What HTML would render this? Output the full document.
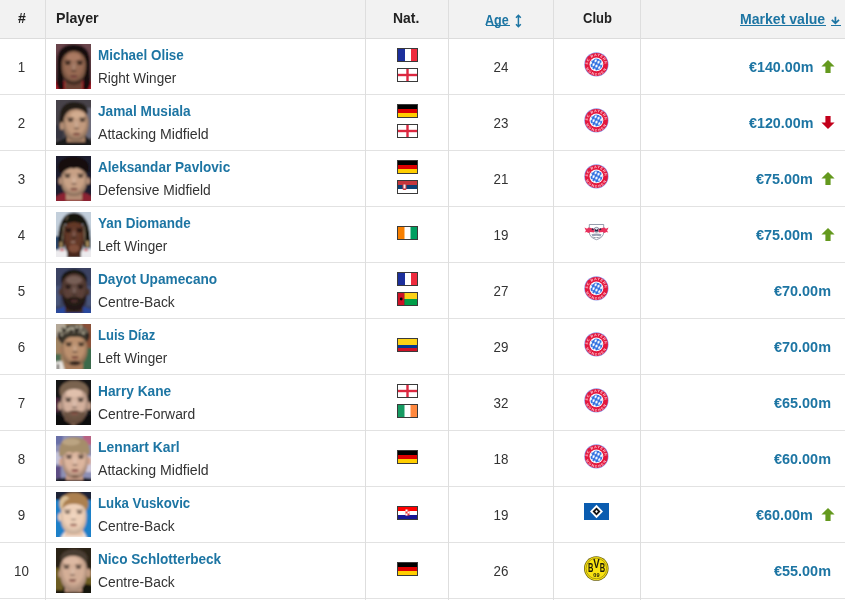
<!DOCTYPE html><html><head><meta charset="utf-8"><title>Most valuable players</title><style>
*{box-sizing:border-box}
html,body{margin:0;padding:0;background:#fff}
body{width:845px;height:600px;overflow:hidden;position:relative;font-family:"Liberation Sans", sans-serif;font-size:14px;color:#333}
.hd{position:absolute;left:0;top:0;width:845px;height:39px;background:#f2f2f2;border-bottom:1px solid #dcdcdc}
.row{position:absolute;left:0;width:845px;height:56px;border-bottom:1px solid #e2e2e2;background:#fff}
.vl{position:absolute;top:0;width:1px;height:600px;background:#dedede}
.t{position:absolute;white-space:nowrap;line-height:16px;height:16px;transform-origin:0 0}
.c{transform-origin:50% 0}
.b{font-weight:bold}
.lnk{color:#1d75a3}
.hdt{color:#222;font-weight:bold}
.pic{position:absolute;left:56px;top:5px}
.flag{position:absolute;left:397px}
.club{position:absolute}
.arr{position:absolute;left:820.500px;top:21px}
.ul{position:absolute;height:1px;background:#1d75a3}
</style></head><body>
<svg width="0" height="0" style="position:absolute"><defs><radialGradient id="shade" cx="0.5" cy="0.42" r="0.62"><stop offset="0" stop-color="#fff" stop-opacity="0.10"/><stop offset="0.55" stop-color="#000" stop-opacity="0"/><stop offset="1" stop-color="#000" stop-opacity="0.42"/></radialGradient><path id="fcbtop" d="M4.200 12.4 A8.200 8.200 0 0 1 20.600 12.4"/><path id="fcbbot" d="M1.300 12.4 A11.100 11.100 0 0 0 23.500 12.4"/><pattern id="fcbpat" width="3.200" height="4.400" patternUnits="userSpaceOnUse" patternTransform="rotate(28)"><rect width="3.200" height="4.400" fill="#2f6fe0"/><path d="M1.600 0.200 L2.900 2.200 L1.600 4.200 L0.300 2.200Z" fill="#fff"/></pattern></defs></svg>
<div class="hd">
<span class="t hdt" style="left:17.600px;top:10px;transform:scaleX(1.0004)">#</span>
<span class="t hdt" style="left:55.600px;top:10px;transform:scaleX(1.0132)">Player</span>
<span class="t hdt" style="left:393.300px;top:10px;transform:scaleX(0.9942)">Nat.</span>
<a class="t b lnk" style="left:485px;top:12px;transform:scaleX(0.8959)">Age</a>
<span class="t hdt" style="left:582.500px;top:10px;transform:scaleX(0.9290)">Club</span>
<a class="t b lnk" style="left:740px;top:11px;transform:scaleX(1.0044)">Market value</a>
<div class="ul" style="left:485.500px;width:24px;top:25px"></div>
<div class="ul" style="left:740px;width:86px;top:25px"></div>
<div class="ul" style="left:831px;width:9.500px;top:25px"></div>
<svg style="position:absolute;left:514px;top:13.500px" width="9" height="14" viewBox="0 0 9 14"><path d="M4.400 1.500 V12.500 M2 3.800 L4.400 1.300 L6.800 3.800 M2 10.200 L4.400 12.700 L6.800 10.200" stroke="#1d75a3" stroke-width="1.500" fill="none"/></svg>
<svg style="position:absolute;left:830px;top:15px" width="11" height="10" viewBox="0 0 11 10"><path d="M5.400 1.700 V8 M1.800 4.800 L5.400 8.300 L9 4.800" stroke="#1d75a3" stroke-width="1.700" fill="none"/></svg>
</div>
<div class="row" style="top:39px">
<span class="t c" style="left:-0.700px;width:45px;text-align:center;top:19.500px;transform:scaleX(0.9550)">1</span>
<svg class="pic" width="35" height="45" viewBox="0 0 35 45"><defs><filter id="bl1" x="-30%" y="-30%" width="160%" height="160%"><feGaussianBlur stdDeviation="0.8"/></filter><clipPath id="cp1"><rect width="35" height="45"/></clipPath></defs><g clip-path="url(#cp1)"><g filter="url(#bl1)"><rect x="-5" y="-5" width="45" height="55" fill="#6b444c"/><rect x="-5" y="37" width="45" height="14" fill="#b01c2a"/><path d="M0.500 40 L1 16 Q2 0.500 17.5 0.500 Q33 0.500 34 16 L34.500 40 L32 46 L27 46 L28 14 L7 14 L8 46 L3 46Z" fill="#17110f"/><rect x="9" y="30" width="17" height="16" fill="#6a4434"/><path d="M5.600000000000001 20.57 C5.600000000000001 2.4800000000000004 30.0 2.4800000000000004 30.0 20.57 C30.0 33.3 25.364 40 17.8 40 C10.236 40 5.600000000000001 33.3 5.600000000000001 20.57Z" fill="#9a6c54"/><path d="M5.600000000000001 20.57 C5.600000000000001 2.4800000000000004 30.0 2.4800000000000004 30.0 20.57 C30.0 33.3 25.364 40 17.8 40 C10.236 40 5.600000000000001 33.3 5.600000000000001 20.57Z" fill="url(#shade)" opacity="1.00"/><ellipse cx="17.5" cy="13" rx="7" ry="3.500" fill="#b07e66" opacity="0.8"/><path d="M6.500 30 Q8 41 17.8 41 Q27.500 41 29 30 Q26 37 17.8 37.500 Q9.500 37 6.500 30Z" fill="#2a1a14" opacity="0.6"/><ellipse cx="11.8" cy="19.5" rx="2.800" ry="1.300" fill="#120c0a" opacity="0.81"/><ellipse cx="23.8" cy="19.5" rx="2.800" ry="1.300" fill="#120c0a" opacity="0.81"/><rect x="8.600000000000001" y="16.6" width="6.400" height="1.300" fill="#120c0a" opacity="0.6885"/><rect x="20.6" y="16.6" width="6.400" height="1.300" fill="#120c0a" opacity="0.6885"/><ellipse cx="17.8" cy="27" rx="2.800" ry="1" fill="#1a0c08" opacity="0.405"/><ellipse cx="17.8" cy="23.5" rx="1.200" ry="3" fill="#fff" opacity="0.12"/><ellipse cx="17.8" cy="32.9" rx="3.400" ry="1.300" fill="#8a4a4a" opacity="0.65"/><ellipse cx="17.8" cy="31.8" rx="4" ry="0.600" fill="#2a1212" opacity="0.6"/></g></g></svg>
<a class="t b lnk" style="left:97.700px;top:8px;transform:scaleX(0.9588)">Michael Olise</a>
<span class="t " style="left:98px;top:31px;transform:scaleX(0.9664)">Right Winger</span>
<svg class="flag" style="top:9px" width="21" height="14" viewBox="-1 -1 21 14"><rect x="-1" y="-1" width="21" height="14" fill="#3a3a3a"/><rect width="7" height="12" fill="#1c2f9c"/><rect x="7" width="7" height="12" fill="#fff"/><rect x="13" width="6" height="12" fill="#ee2b3e"/></svg>
<svg class="flag" style="top:29px" width="21" height="14" viewBox="-1 -1 21 14"><rect x="-1" y="-1" width="21" height="14" fill="#3a3a3a"/><rect width="19" height="12" fill="#fff"/><rect x="8.300" width="2.400" height="12" fill="#dc2840"/><rect y="4.800" width="19" height="2.400" fill="#dc2840"/></svg>
<span class="t c" style="left:449px;width:104px;text-align:center;top:19.500px;transform:scaleX(0.9550)">24</span>
<svg class="club" style="left:584px;top:13px" width="25" height="25" viewBox="0 0 25 25"><circle cx="12.4" cy="12.4" r="12.1" fill="#8f98ea"/><circle cx="12.4" cy="12.4" r="11.5" fill="#e3173d"/><text font-family="Liberation Sans, sans-serif" font-weight="bold" font-size="3.600" fill="#ffc4cf" letter-spacing="0.550"><textPath href="#fcbtop" startOffset="50%" text-anchor="middle">FC BAYERN</textPath></text><text font-family="Liberation Sans, sans-serif" font-weight="bold" font-size="3.600" fill="#ffc4cf" letter-spacing="1.200"><textPath href="#fcbbot" startOffset="50%" text-anchor="middle">MÜNCHEN</textPath></text><circle cx="12.4" cy="12.4" r="6.9" fill="#fff"/><circle cx="12.4" cy="12.4" r="6" fill="url(#fcbpat)"/></svg>
<a class="t b lnk" style="left:748.8px;top:19.500px;transform:scaleX(1.0212)">€140.00m</a>
<svg class="arr" width="14" height="13" viewBox="0 0 14 13"><path d="M7 0 L13.6 6.600 H9.600 V13 H4.400 V6.600 H0.400z" fill="#64991e"/></svg>
</div>
<div class="row" style="top:95px">
<span class="t c" style="left:-0.700px;width:45px;text-align:center;top:19.500px;transform:scaleX(0.9550)">2</span>
<svg class="pic" width="35" height="45" viewBox="0 0 35 45"><defs><filter id="bl2" x="-30%" y="-30%" width="160%" height="160%"><feGaussianBlur stdDeviation="0.8"/></filter><clipPath id="cp2"><rect width="35" height="45"/></clipPath></defs><g clip-path="url(#cp2)"><g filter="url(#bl2)"><rect x="-5" y="-5" width="45" height="55" fill="#47434a"/><rect x="30" y="8" width="10" height="30" fill="#6c6c7c"/><rect x="-5" y="25" width="12" height="14" fill="#353540"/><path d="M-2 50 V43 Q8 39 12 36 H30 Q33 40 38 43 V50Z" fill="#1a1a1e"/><rect x="11" y="30" width="18" height="12" fill="#a88268"/><path d="M3.500 24 Q2 2 18 2 Q31 2 32 12 L30 16 Q20 7 11 14 L9 26Z" fill="#241b16"/><ellipse cx="6" cy="26" rx="2.200" ry="4" fill="#b48e74"/><path d="M7.4 22.15 C7.4 4.6 32.6 4.6 32.6 22.15 C32.6 34.5 27.811999999999998 41 20 41 C12.188 41 7.4 34.5 7.4 22.15Z" fill="#c59c7f"/><path d="M7.4 22.15 C7.4 4.6 32.6 4.6 32.6 22.15 C32.6 34.5 27.811999999999998 41 20 41 C12.188 41 7.4 34.5 7.4 22.15Z" fill="url(#shade)" opacity="1.00"/><ellipse cx="22" cy="15" rx="7" ry="3.500" fill="#d6b094" opacity="0.8"/><ellipse cx="14.5" cy="20.5" rx="2.800" ry="1.300" fill="#120c0a" opacity="0.7425000000000002"/><ellipse cx="26.5" cy="20.5" rx="2.800" ry="1.300" fill="#120c0a" opacity="0.7425000000000002"/><rect x="11.3" y="17.6" width="6.400" height="1.300" fill="#120c0a" opacity="0.6311250000000002"/><rect x="23.3" y="17.6" width="6.400" height="1.300" fill="#120c0a" opacity="0.6311250000000002"/><ellipse cx="20.5" cy="28.5" rx="2.800" ry="1" fill="#1a0c08" opacity="0.3712500000000001"/><ellipse cx="20.5" cy="25.0" rx="1.200" ry="3" fill="#fff" opacity="0.12"/><ellipse cx="20.5" cy="34.4" rx="3.400" ry="1.300" fill="#8a4a40" opacity="0.65"/><ellipse cx="20.5" cy="33.3" rx="4" ry="0.600" fill="#2a1212" opacity="0.6"/></g></g></svg>
<a class="t b lnk" style="left:97.700px;top:8px;transform:scaleX(0.9764)">Jamal Musiala</a>
<span class="t " style="left:98px;top:31px;transform:scaleX(1.0089)">Attacking Midfield</span>
<svg class="flag" style="top:9px" width="21" height="14" viewBox="-1 -1 21 14"><rect x="-1" y="-1" width="21" height="14" fill="#3a3a3a"/><rect width="19" height="4" fill="#000"/><rect y="4" width="19" height="4" fill="#dd0000"/><rect y="8" width="19" height="4" fill="#ffce00"/></svg>
<svg class="flag" style="top:29px" width="21" height="14" viewBox="-1 -1 21 14"><rect x="-1" y="-1" width="21" height="14" fill="#3a3a3a"/><rect width="19" height="12" fill="#fff"/><rect x="8.300" width="2.400" height="12" fill="#dc2840"/><rect y="4.800" width="19" height="2.400" fill="#dc2840"/></svg>
<span class="t c" style="left:449px;width:104px;text-align:center;top:19.500px;transform:scaleX(0.9550)">23</span>
<svg class="club" style="left:584px;top:13px" width="25" height="25" viewBox="0 0 25 25"><circle cx="12.4" cy="12.4" r="12.1" fill="#8f98ea"/><circle cx="12.4" cy="12.4" r="11.5" fill="#e3173d"/><text font-family="Liberation Sans, sans-serif" font-weight="bold" font-size="3.600" fill="#ffc4cf" letter-spacing="0.550"><textPath href="#fcbtop" startOffset="50%" text-anchor="middle">FC BAYERN</textPath></text><text font-family="Liberation Sans, sans-serif" font-weight="bold" font-size="3.600" fill="#ffc4cf" letter-spacing="1.200"><textPath href="#fcbbot" startOffset="50%" text-anchor="middle">MÜNCHEN</textPath></text><circle cx="12.4" cy="12.4" r="6.9" fill="#fff"/><circle cx="12.4" cy="12.4" r="6" fill="url(#fcbpat)"/></svg>
<a class="t b lnk" style="left:748.8px;top:19.500px;transform:scaleX(1.0212)">€120.00m</a>
<svg class="arr" width="14" height="13" viewBox="0 0 14 13"><path d="M7 13 L13.6 6.400 H9.600 V0 H4.400 V6.400 H0.400z" fill="#c2001b"/></svg>
</div>
<div class="row" style="top:151px">
<span class="t c" style="left:-0.700px;width:45px;text-align:center;top:19.500px;transform:scaleX(0.9550)">3</span>
<svg class="pic" width="35" height="45" viewBox="0 0 35 45"><defs><filter id="bl3" x="-30%" y="-30%" width="160%" height="160%"><feGaussianBlur stdDeviation="0.8"/></filter><clipPath id="cp3"><rect width="35" height="45"/></clipPath></defs><g clip-path="url(#cp3)"><g filter="url(#bl3)"><rect x="-5" y="-5" width="45" height="55" fill="#1b1d2d"/><path d="M-2 50 V42 Q6 36 11 37 L17.5 44 L25 37 Q30 36 38 42 V50Z" fill="#8c2232"/><rect x="10" y="30" width="16" height="14" fill="#b48c74"/><ellipse cx="17.5" cy="11" rx="15.500" ry="10.500" fill="#15110f"/><ellipse cx="4.500" cy="25" rx="2" ry="3.500" fill="#b8917a"/><ellipse cx="32" cy="25" rx="2" ry="3.500" fill="#b8917a"/><path d="M5 23.18 C5 7.52 31 7.52 31 23.18 C31 34.2 26.060000000000002 40 18 40 C9.94 40 5 34.2 5 23.18Z" fill="#cba387"/><path d="M5 23.18 C5 7.52 31 7.52 31 23.18 C31 34.2 26.060000000000002 40 18 40 C9.94 40 5 34.2 5 23.18Z" fill="url(#shade)" opacity="1.00"/><path d="M3 17 Q3 3 18 2.500 Q33 3 33.5 17 Q30 11.500 26 13 Q22 11 18 12.500 Q13 11 10 13.500 Q6 12.500 3 17Z" fill="#15110f"/><ellipse cx="11.5" cy="20.5" rx="2.800" ry="1.300" fill="#120c0a" opacity="0.7425000000000002"/><ellipse cx="24.5" cy="20.5" rx="2.800" ry="1.300" fill="#120c0a" opacity="0.7425000000000002"/><rect x="8.3" y="17.6" width="6.400" height="1.300" fill="#120c0a" opacity="0.6311250000000002"/><rect x="21.3" y="17.6" width="6.400" height="1.300" fill="#120c0a" opacity="0.6311250000000002"/><ellipse cx="18" cy="28" rx="2.800" ry="1" fill="#1a0c08" opacity="0.3712500000000001"/><ellipse cx="18" cy="24.5" rx="1.200" ry="3" fill="#fff" opacity="0.12"/><ellipse cx="18" cy="33.4" rx="3.400" ry="1.300" fill="#8a4a40" opacity="0.65"/><ellipse cx="18" cy="32.3" rx="4" ry="0.600" fill="#2a1212" opacity="0.6"/></g></g></svg>
<a class="t b lnk" style="left:97.700px;top:8px;transform:scaleX(0.9707)">Aleksandar Pavlovic</a>
<span class="t " style="left:98px;top:31px;transform:scaleX(0.9852)">Defensive Midfield</span>
<svg class="flag" style="top:9px" width="21" height="14" viewBox="-1 -1 21 14"><rect x="-1" y="-1" width="21" height="14" fill="#3a3a3a"/><rect width="19" height="4" fill="#000"/><rect y="4" width="19" height="4" fill="#dd0000"/><rect y="8" width="19" height="4" fill="#ffce00"/></svg>
<svg class="flag" style="top:29px" width="21" height="14" viewBox="-1 -1 21 14"><rect x="-1" y="-1" width="21" height="14" fill="#3a3a3a"/><rect width="19" height="4" fill="#c6363c"/><rect y="4" width="19" height="4" fill="#0c4076"/><rect y="8" width="19" height="4" fill="#fff"/><rect x="4.5" y="2" width="4" height="7" rx="1.5" fill="#c6363c"/><rect x="5.5" y="3.5" width="2" height="4" fill="#eee"/></svg>
<span class="t c" style="left:449px;width:104px;text-align:center;top:19.500px;transform:scaleX(0.9550)">21</span>
<svg class="club" style="left:584px;top:13px" width="25" height="25" viewBox="0 0 25 25"><circle cx="12.4" cy="12.4" r="12.1" fill="#8f98ea"/><circle cx="12.4" cy="12.4" r="11.5" fill="#e3173d"/><text font-family="Liberation Sans, sans-serif" font-weight="bold" font-size="3.600" fill="#ffc4cf" letter-spacing="0.550"><textPath href="#fcbtop" startOffset="50%" text-anchor="middle">FC BAYERN</textPath></text><text font-family="Liberation Sans, sans-serif" font-weight="bold" font-size="3.600" fill="#ffc4cf" letter-spacing="1.200"><textPath href="#fcbbot" startOffset="50%" text-anchor="middle">MÜNCHEN</textPath></text><circle cx="12.4" cy="12.4" r="6.9" fill="#fff"/><circle cx="12.4" cy="12.4" r="6" fill="url(#fcbpat)"/></svg>
<a class="t b lnk" style="left:756.3px;top:19.500px;transform:scaleX(1.0293)">€75.00m</a>
<svg class="arr" width="14" height="13" viewBox="0 0 14 13"><path d="M7 0 L13.6 6.600 H9.600 V13 H4.400 V6.600 H0.400z" fill="#64991e"/></svg>
</div>
<div class="row" style="top:207px">
<span class="t c" style="left:-0.700px;width:45px;text-align:center;top:19.500px;transform:scaleX(0.9550)">4</span>
<svg class="pic" width="35" height="45" viewBox="0 0 35 45"><defs><filter id="bl4" x="-30%" y="-30%" width="160%" height="160%"><feGaussianBlur stdDeviation="0.8"/></filter><clipPath id="cp4"><rect width="35" height="45"/></clipPath></defs><g clip-path="url(#cp4)"><g filter="url(#bl4)"><rect x="-5" y="-5" width="45" height="55" fill="#c3cfdb"/><rect x="-5" y="24" width="8" height="15" fill="#2c4c72"/><rect x="-5" y="38" width="45" height="12" fill="#ecebee"/><path d="M2 36 Q0.500 0.500 18 0.500 Q35.500 0.500 34.500 36 L28 36 L27 12 L9 12 L8 36Z" fill="#18120f"/><rect x="3.500" y="30" width="3" height="6" fill="#a48a5c"/><rect x="30" y="29" width="3" height="6" fill="#a48a5c"/><rect x="11" y="34" width="14" height="12" fill="#4a2a20"/><path d="M7.5 22.33 C7.5 2.62 28.5 2.62 28.5 22.33 C28.5 36.2 25.35 43.5 18 43.5 C10.65 43.5 7.5 36.2 7.5 22.33Z" fill="#643828"/><path d="M7.5 22.33 C7.5 2.62 28.5 2.62 28.5 22.33 C28.5 36.2 25.35 43.5 18 43.5 C10.65 43.5 7.5 36.2 7.5 22.33Z" fill="url(#shade)" opacity="1.00"/><ellipse cx="18" cy="36.500" rx="5.500" ry="4" fill="#8a5640" opacity="0.8"/><path d="M8 9 Q12 4 18 5 Q25 4 28 9 L27.500 12.500 Q18 7.500 8.500 12.500Z" fill="#18120f"/><ellipse cx="12.5" cy="19" rx="2.800" ry="1.300" fill="#120c0a" opacity="0.945"/><ellipse cx="23.5" cy="19" rx="2.800" ry="1.300" fill="#120c0a" opacity="0.945"/><rect x="9.3" y="16.1" width="6.400" height="1.300" fill="#120c0a" opacity="0.8032499999999999"/><rect x="20.3" y="16.1" width="6.400" height="1.300" fill="#120c0a" opacity="0.8032499999999999"/><ellipse cx="18" cy="25.5" rx="2.800" ry="1" fill="#1a0c08" opacity="0.4725"/><ellipse cx="18" cy="22.0" rx="1.200" ry="3" fill="#fff" opacity="0.12"/><ellipse cx="17" cy="30" rx="2.600" ry="0.600" fill="#e0d0c4" opacity="0.75"/><path d="M6 30 L8 12 M10 8 L12 4 M29 30 L28 14" stroke="#b8a888" stroke-width="1" opacity="0.7" fill="none"/><rect x="4" y="37" width="4" height="2" fill="#d04050"/><rect x="28" y="37" width="4" height="2" fill="#d04050"/></g></g></svg>
<a class="t b lnk" style="left:97.700px;top:8px;transform:scaleX(0.9609)">Yan Diomande</a>
<span class="t " style="left:98px;top:31px;transform:scaleX(0.9666)">Left Winger</span>
<svg class="flag" style="top:19px" width="21" height="14" viewBox="-1 -1 21 14"><rect x="-1" y="-1" width="21" height="14" fill="#3a3a3a"/><rect width="7" height="12" fill="#f77f00"/><rect x="6.5" width="6.5" height="12" fill="#fff"/><rect x="12.5" width="6.5" height="12" fill="#009e60"/></svg>
<span class="t c" style="left:449px;width:104px;text-align:center;top:19.500px;transform:scaleX(0.9550)">19</span>
<svg class="club" style="left:584px;top:17px" width="25" height="17" viewBox="0 0 25 17"><path d="M5.300 0.500 h14.400 v7.500 q0 5.500 -7.200 7.700 q-7.200 -2.200 -7.200 -7.700z" fill="#fff" stroke="#7a8498" stroke-width="0.800"/><path d="M7.500 10.300 q5 -1.800 10 0 l-0.800 2.200 q-4.200 -1.300 -8.400 0z" fill="#9aa2b4"/><text x="12.500" y="14.300" font-family="Liberation Sans, sans-serif" font-size="1.800" font-weight="bold" fill="#5a6478" text-anchor="middle">LEIPZIG</text><circle cx="12.500" cy="5.800" r="2.500" fill="#e4e4ec" stroke="#2a3350" stroke-width="0.500"/><path d="M0.500 3.600 l2.600 1.200 l1.200 -1.400 l2.800 0.600 l3.600 1.600 l-0.600 2.800 l-3.600 -0.300 l-2.200 1 l-1.600 -1 l-2 0.500 l1.200 -1.800z" fill="#e8305c"/><path d="M24.500 3.600 l-2.600 1.200 l-1.200 -1.400 l-2.800 0.600 l-3.600 1.600 l0.600 2.800 l3.600 -0.300 l2.200 1 l1.600 -1 l2 0.500 l-1.200 -1.800z" fill="#e8305c"/><circle cx="8.700" cy="5.300" r="1" fill="#2a2848"/><circle cx="16.300" cy="5.300" r="1" fill="#2a2848"/><path d="M10.800 4.800 l1.700 1.300 l1.700 -1.300 l-0.400 2.600 h-2.600z" fill="#1c2340"/></svg>
<a class="t b lnk" style="left:756.3px;top:19.500px;transform:scaleX(1.0293)">€75.00m</a>
<svg class="arr" width="14" height="13" viewBox="0 0 14 13"><path d="M7 0 L13.6 6.600 H9.600 V13 H4.400 V6.600 H0.400z" fill="#64991e"/></svg>
</div>
<div class="row" style="top:263px">
<span class="t c" style="left:-0.700px;width:45px;text-align:center;top:19.500px;transform:scaleX(0.9550)">5</span>
<svg class="pic" width="35" height="45" viewBox="0 0 35 45"><defs><filter id="bl5" x="-30%" y="-30%" width="160%" height="160%"><feGaussianBlur stdDeviation="0.8"/></filter><clipPath id="cp5"><rect width="35" height="45"/></clipPath></defs><g clip-path="url(#cp5)"><g filter="url(#bl5)"><rect x="-5" y="-5" width="45" height="55" fill="#3b4262"/><rect x="-5" y="18" width="9" height="20" fill="#4a5478"/><rect x="31" y="18" width="9" height="20" fill="#4a5478"/><path d="M-2 50 V42 Q8 39 12 38 H24 Q28 39 38 42 V50Z" fill="#2b4a9c"/><rect x="9" y="30" width="18" height="15" fill="#3c2a24"/><ellipse cx="18" cy="12" rx="13" ry="10.500" fill="#17120f"/><ellipse cx="4.500" cy="24" rx="1.800" ry="3.500" fill="#4c342c"/><ellipse cx="32" cy="24" rx="1.800" ry="3.500" fill="#4c342c"/><path d="M5.300000000000001 20.54 C5.300000000000001 0.5600000000000005 31.3 0.5600000000000005 31.3 20.54 C31.3 34.6 26.36 42 18.3 42 C10.24 42 5.300000000000001 34.6 5.300000000000001 20.54Z" fill="#5c4138"/><path d="M5.300000000000001 20.54 C5.300000000000001 0.5600000000000005 31.3 0.5600000000000005 31.3 20.54 C31.3 34.6 26.36 42 18.3 42 C10.24 42 5.300000000000001 34.6 5.300000000000001 20.54Z" fill="url(#shade)" opacity="1.00"/><ellipse cx="18" cy="12" rx="8" ry="4" fill="#7d645c" opacity="0.85"/><path d="M6 24 Q6 43 18.3 43 Q30.500 43 30.500 24 Q29 31 24 30 Q18 27.500 12.500 30 Q8 31 6 24Z" fill="#1d1512" opacity="0.85"/><ellipse cx="12.100000000000001" cy="19.5" rx="2.800" ry="1.300" fill="#120c0a" opacity="0.81"/><ellipse cx="24.5" cy="19.5" rx="2.800" ry="1.300" fill="#120c0a" opacity="0.81"/><rect x="8.900000000000002" y="16.6" width="6.400" height="1.300" fill="#120c0a" opacity="0.6885"/><rect x="21.3" y="16.6" width="6.400" height="1.300" fill="#120c0a" opacity="0.6885"/><ellipse cx="18.3" cy="26.5" rx="2.800" ry="1" fill="#1a0c08" opacity="0.405"/><ellipse cx="18.3" cy="23.0" rx="1.200" ry="3" fill="#fff" opacity="0.12"/><ellipse cx="18.3" cy="32.9" rx="3.400" ry="1.300" fill="#6a4040" opacity="0.65"/><ellipse cx="18.3" cy="31.8" rx="4" ry="0.600" fill="#2a1212" opacity="0.6"/></g></g></svg>
<a class="t b lnk" style="left:97.700px;top:8px;transform:scaleX(0.9758)">Dayot Upamecano</a>
<span class="t " style="left:98px;top:31px;transform:scaleX(0.9857)">Centre-Back</span>
<svg class="flag" style="top:9px" width="21" height="14" viewBox="-1 -1 21 14"><rect x="-1" y="-1" width="21" height="14" fill="#3a3a3a"/><rect width="7" height="12" fill="#1c2f9c"/><rect x="7" width="7" height="12" fill="#fff"/><rect x="13" width="6" height="12" fill="#ee2b3e"/></svg>
<svg class="flag" style="top:29px" width="21" height="14" viewBox="-1 -1 21 14"><rect x="-1" y="-1" width="21" height="14" fill="#3a3a3a"/><rect width="6.5" height="12" fill="#ce1126"/><rect x="6.5" width="12.5" height="6" fill="#fcd116"/><rect x="6.5" y="6" width="12.5" height="6" fill="#009e49"/><circle cx="3.2" cy="6" r="1.4" fill="#000"/></svg>
<span class="t c" style="left:449px;width:104px;text-align:center;top:19.500px;transform:scaleX(0.9550)">27</span>
<svg class="club" style="left:584px;top:13px" width="25" height="25" viewBox="0 0 25 25"><circle cx="12.4" cy="12.4" r="12.1" fill="#8f98ea"/><circle cx="12.4" cy="12.4" r="11.5" fill="#e3173d"/><text font-family="Liberation Sans, sans-serif" font-weight="bold" font-size="3.600" fill="#ffc4cf" letter-spacing="0.550"><textPath href="#fcbtop" startOffset="50%" text-anchor="middle">FC BAYERN</textPath></text><text font-family="Liberation Sans, sans-serif" font-weight="bold" font-size="3.600" fill="#ffc4cf" letter-spacing="1.200"><textPath href="#fcbbot" startOffset="50%" text-anchor="middle">MÜNCHEN</textPath></text><circle cx="12.4" cy="12.4" r="6.9" fill="#fff"/><circle cx="12.4" cy="12.4" r="6" fill="url(#fcbpat)"/></svg>
<a class="t b lnk" style="left:773.8px;top:19.500px;transform:scaleX(1.0311)">€70.00m</a>
</div>
<div class="row" style="top:319px">
<span class="t c" style="left:-0.700px;width:45px;text-align:center;top:19.500px;transform:scaleX(0.9550)">6</span>
<svg class="pic" width="35" height="45" viewBox="0 0 35 45"><defs><filter id="bl6" x="-30%" y="-30%" width="160%" height="160%"><feGaussianBlur stdDeviation="0.8"/></filter><clipPath id="cp6"><rect width="35" height="45"/></clipPath></defs><g clip-path="url(#cp6)"><g filter="url(#bl6)"><rect x="-5" y="-5" width="45" height="55" fill="#a08464"/><rect x="-5" y="-5" width="14" height="18" fill="#b4a898"/><rect x="26" y="-5" width="14" height="30" fill="#8a5138"/><rect x="24" y="24" width="16" height="26" fill="#3a6a4c"/><rect x="-5" y="30" width="10" height="10" fill="#4a6a50"/><path d="M-3 50 V38 L6 37 L10 50Z" fill="#e8e4e0"/><rect x="1" y="40" width="2" height="8" fill="#222"/><rect x="9" y="32" width="18" height="14" fill="#a87c5c"/><ellipse cx="17.5" cy="11.500" rx="16" ry="11" fill="#2a2420"/><ellipse cx="17.5" cy="8" rx="14.500" ry="7" fill="#6a6456"/><circle cx="15.0" cy="10.9" r="1.5" fill="#b4ae98"/><circle cx="27.0" cy="10.7" r="1.3" fill="#241e1a"/><circle cx="27.2" cy="10.2" r="1.0" fill="#b4ae98"/><circle cx="14.0" cy="9.2" r="1.1" fill="#241e1a"/><circle cx="5.8" cy="11.3" r="1.1" fill="#b4ae98"/><circle cx="19.4" cy="13.8" r="1.7" fill="#241e1a"/><circle cx="9.4" cy="6.5" r="1.7" fill="#b4ae98"/><circle cx="30.4" cy="10.3" r="1.2" fill="#241e1a"/><circle cx="20.6" cy="10.3" r="1.2" fill="#b4ae98"/><circle cx="20.0" cy="5.9" r="1.4" fill="#241e1a"/><circle cx="11.8" cy="5.3" r="1.4" fill="#b4ae98"/><circle cx="20.8" cy="9.1" r="1.1" fill="#241e1a"/><circle cx="13.5" cy="4.5" r="1.2" fill="#b4ae98"/><circle cx="9.1" cy="6.2" r="1.2" fill="#241e1a"/><circle cx="20.8" cy="3.0" r="1.2" fill="#b4ae98"/><circle cx="8.1" cy="6.3" r="1.6" fill="#241e1a"/><circle cx="16.5" cy="4.9" r="1.7" fill="#b4ae98"/><circle cx="24.4" cy="11.5" r="1.5" fill="#241e1a"/><circle cx="23.4" cy="12.4" r="1.0" fill="#b4ae98"/><circle cx="11.3" cy="3.3" r="1.4" fill="#241e1a"/><circle cx="23.3" cy="5.8" r="1.5" fill="#b4ae98"/><circle cx="8.3" cy="5.6" r="1.3" fill="#241e1a"/><circle cx="25.0" cy="2.9" r="1.3" fill="#b4ae98"/><circle cx="15.7" cy="7.1" r="1.5" fill="#241e1a"/><circle cx="8.8" cy="3.1" r="1.6" fill="#b4ae98"/><circle cx="15.6" cy="12.6" r="1.5" fill="#241e1a"/><circle cx="27.3" cy="9.2" r="1.1" fill="#b4ae98"/><circle cx="20.1" cy="9.6" r="1.5" fill="#241e1a"/><circle cx="22.5" cy="11.0" r="1.3" fill="#b4ae98"/><circle cx="20.3" cy="7.1" r="1.3" fill="#241e1a"/><circle cx="4.5" cy="6.5" r="1.6" fill="#b4ae98"/><circle cx="22.5" cy="5.8" r="1.3" fill="#241e1a"/><circle cx="8.9" cy="13.5" r="1.7" fill="#b4ae98"/><circle cx="21.0" cy="10.8" r="1.2" fill="#241e1a"/><ellipse cx="5" cy="26" rx="2" ry="3.500" fill="#a87c5c"/><path d="M5.5 23.729999999999997 C5.5 6.720000000000001 31.5 6.720000000000001 31.5 23.729999999999997 C31.5 35.7 26.560000000000002 42 18.5 42 C10.44 42 5.5 35.7 5.5 23.729999999999997Z" fill="#be926f"/><path d="M5.5 23.729999999999997 C5.5 6.720000000000001 31.5 6.720000000000001 31.5 23.729999999999997 C31.5 35.7 26.560000000000002 42 18.5 42 C10.44 42 5.5 35.7 5.5 23.729999999999997Z" fill="url(#shade)" opacity="1.00"/><path d="M4 18 Q4 8 18 9 Q31 8 32 17 Q26 11.500 18 13 Q10 11 7 20Z" fill="#3a342c"/><ellipse cx="19" cy="39" rx="5.500" ry="2.200" fill="#2a1c16" opacity="0.85"/><ellipse cx="12.8" cy="21" rx="2.800" ry="1.300" fill="#120c0a" opacity="0.81"/><ellipse cx="25.2" cy="21" rx="2.800" ry="1.300" fill="#120c0a" opacity="0.81"/><rect x="9.600000000000001" y="18.1" width="6.400" height="1.300" fill="#120c0a" opacity="0.6885"/><rect x="22.0" y="18.1" width="6.400" height="1.300" fill="#120c0a" opacity="0.6885"/><ellipse cx="19" cy="28" rx="2.800" ry="1" fill="#1a0c08" opacity="0.405"/><ellipse cx="19" cy="24.5" rx="1.200" ry="3" fill="#fff" opacity="0.12"/><ellipse cx="19" cy="33.9" rx="3.400" ry="1.300" fill="#8a4a40" opacity="0.65"/><ellipse cx="19" cy="32.8" rx="4" ry="0.600" fill="#2a1212" opacity="0.6"/></g></g></svg>
<a class="t b lnk" style="left:97.700px;top:8px;transform:scaleX(0.9306)">Luis Díaz</a>
<span class="t " style="left:98px;top:31px;transform:scaleX(0.9666)">Left Winger</span>
<svg class="flag" style="top:19px" width="21" height="14" viewBox="-1 -1 21 14"><rect x="-1" y="-1" width="21" height="14" fill="#3a3a3a"/><rect width="19" height="6" fill="#fcd116"/><rect y="6" width="19" height="3" fill="#003893"/><rect y="9" width="19" height="3" fill="#ce1126"/></svg>
<span class="t c" style="left:449px;width:104px;text-align:center;top:19.500px;transform:scaleX(0.9550)">29</span>
<svg class="club" style="left:584px;top:13px" width="25" height="25" viewBox="0 0 25 25"><circle cx="12.4" cy="12.4" r="12.1" fill="#8f98ea"/><circle cx="12.4" cy="12.4" r="11.5" fill="#e3173d"/><text font-family="Liberation Sans, sans-serif" font-weight="bold" font-size="3.600" fill="#ffc4cf" letter-spacing="0.550"><textPath href="#fcbtop" startOffset="50%" text-anchor="middle">FC BAYERN</textPath></text><text font-family="Liberation Sans, sans-serif" font-weight="bold" font-size="3.600" fill="#ffc4cf" letter-spacing="1.200"><textPath href="#fcbbot" startOffset="50%" text-anchor="middle">MÜNCHEN</textPath></text><circle cx="12.4" cy="12.4" r="6.9" fill="#fff"/><circle cx="12.4" cy="12.4" r="6" fill="url(#fcbpat)"/></svg>
<a class="t b lnk" style="left:773.8px;top:19.500px;transform:scaleX(1.0311)">€70.00m</a>
</div>
<div class="row" style="top:375px">
<span class="t c" style="left:-0.700px;width:45px;text-align:center;top:19.500px;transform:scaleX(0.9550)">7</span>
<svg class="pic" width="35" height="45" viewBox="0 0 35 45"><defs><filter id="bl7" x="-30%" y="-30%" width="160%" height="160%"><feGaussianBlur stdDeviation="0.8"/></filter><clipPath id="cp7"><rect width="35" height="45"/></clipPath></defs><g clip-path="url(#cp7)"><g filter="url(#bl7)"><rect x="-5" y="-5" width="45" height="55" fill="#151319"/><rect x="-5" y="18" width="9" height="14" fill="#46283a"/><rect x="9" y="32" width="18" height="14" fill="#8a6a58"/><path d="M-2 50 V36 Q4 34 9 40 L17.5 46 L27 40 Q31 34 38 36 V50Z" fill="#0b0b0d"/><ellipse cx="18" cy="11" rx="14.500" ry="10.500" fill="#7a6450"/><ellipse cx="4" cy="26" rx="2" ry="4" fill="#c09c88"/><ellipse cx="33" cy="26" rx="2" ry="4" fill="#c09c88"/><path d="M5.0 22.119999999999997 C5.0 2.6799999999999997 32.0 2.6799999999999997 32.0 22.119999999999997 C32.0 35.8 26.869999999999997 43 18.5 43 C10.13 43 5.0 35.8 5.0 22.119999999999997Z" fill="#d6b29e"/><path d="M5.0 22.119999999999997 C5.0 2.6799999999999997 32.0 2.6799999999999997 32.0 22.119999999999997 C32.0 35.8 26.869999999999997 43 18.5 43 C10.13 43 5.0 35.8 5.0 22.119999999999997Z" fill="url(#shade)" opacity="1.00"/><ellipse cx="18" cy="13" rx="8" ry="4" fill="#e4c4b0" opacity="0.8"/><path d="M4.500 17 Q5 2 18 2 Q31 2 32.500 17 Q28 8.500 18 9 Q9 8.500 4.500 17Z" fill="#7a6450"/><path d="M7 28 Q7.500 44 18.5 44 Q29.500 44 30 28 Q28.500 33 24.500 31.500 Q18.500 29 12.500 31.500 Q8.500 33 7 28Z" fill="#5a4232" opacity="0.8"/><ellipse cx="12.3" cy="20.5" rx="2.800" ry="1.300" fill="#120c0a" opacity="0.7425000000000002"/><ellipse cx="24.7" cy="20.5" rx="2.800" ry="1.300" fill="#120c0a" opacity="0.7425000000000002"/><rect x="9.100000000000001" y="17.6" width="6.400" height="1.300" fill="#120c0a" opacity="0.6311250000000002"/><rect x="21.5" y="17.6" width="6.400" height="1.300" fill="#120c0a" opacity="0.6311250000000002"/><ellipse cx="18.5" cy="27.5" rx="2.800" ry="1" fill="#1a0c08" opacity="0.3712500000000001"/><ellipse cx="18.5" cy="24.0" rx="1.200" ry="3" fill="#fff" opacity="0.12"/><ellipse cx="18.5" cy="33.4" rx="3.400" ry="1.300" fill="#9a5a50" opacity="0.65"/><ellipse cx="18.5" cy="32.3" rx="4" ry="0.600" fill="#2a1212" opacity="0.6"/></g></g></svg>
<a class="t b lnk" style="left:97.700px;top:8px;transform:scaleX(0.9799)">Harry Kane</a>
<span class="t " style="left:98px;top:31px;transform:scaleX(0.9915)">Centre-Forward</span>
<svg class="flag" style="top:9px" width="21" height="14" viewBox="-1 -1 21 14"><rect x="-1" y="-1" width="21" height="14" fill="#3a3a3a"/><rect width="19" height="12" fill="#fff"/><rect x="8.300" width="2.400" height="12" fill="#dc2840"/><rect y="4.800" width="19" height="2.400" fill="#dc2840"/></svg>
<svg class="flag" style="top:29px" width="21" height="14" viewBox="-1 -1 21 14"><rect x="-1" y="-1" width="21" height="14" fill="#3a3a3a"/><rect width="7" height="12" fill="#169b62"/><rect x="6.5" width="6.5" height="12" fill="#fff"/><rect x="12.5" width="6.5" height="12" fill="#ff883e"/></svg>
<span class="t c" style="left:449px;width:104px;text-align:center;top:19.500px;transform:scaleX(0.9550)">32</span>
<svg class="club" style="left:584px;top:13px" width="25" height="25" viewBox="0 0 25 25"><circle cx="12.4" cy="12.4" r="12.1" fill="#8f98ea"/><circle cx="12.4" cy="12.4" r="11.5" fill="#e3173d"/><text font-family="Liberation Sans, sans-serif" font-weight="bold" font-size="3.600" fill="#ffc4cf" letter-spacing="0.550"><textPath href="#fcbtop" startOffset="50%" text-anchor="middle">FC BAYERN</textPath></text><text font-family="Liberation Sans, sans-serif" font-weight="bold" font-size="3.600" fill="#ffc4cf" letter-spacing="1.200"><textPath href="#fcbbot" startOffset="50%" text-anchor="middle">MÜNCHEN</textPath></text><circle cx="12.4" cy="12.4" r="6.9" fill="#fff"/><circle cx="12.4" cy="12.4" r="6" fill="url(#fcbpat)"/></svg>
<a class="t b lnk" style="left:773.8px;top:19.500px;transform:scaleX(1.0311)">€65.00m</a>
</div>
<div class="row" style="top:431px">
<span class="t c" style="left:-0.700px;width:45px;text-align:center;top:19.500px;transform:scaleX(0.9550)">8</span>
<svg class="pic" width="35" height="45" viewBox="0 0 35 45"><defs><filter id="bl8" x="-30%" y="-30%" width="160%" height="160%"><feGaussianBlur stdDeviation="0.8"/></filter><clipPath id="cp8"><rect width="35" height="45"/></clipPath></defs><g clip-path="url(#cp8)"><g filter="url(#bl8)"><rect x="-5" y="-5" width="45" height="55" fill="#8d90b6"/><rect x="-5" y="-5" width="12" height="14" fill="#6970a8"/><rect x="27" y="-5" width="13" height="14" fill="#b86484"/><rect x="-5" y="16" width="10" height="12" fill="#c4c4dc"/><rect x="30" y="20" width="10" height="16" fill="#cfc8da"/><rect x="-5" y="30" width="10" height="12" fill="#5d4d84"/><path d="M-2 50 V43 Q8 41 12 42 H24 Q28 41 38 43 V50Z" fill="#1e1e26"/><rect x="10" y="32" width="17" height="12" fill="#c89c86"/><ellipse cx="5" cy="26" rx="2" ry="4" fill="#d4a48e"/><ellipse cx="33" cy="25" rx="2" ry="4" fill="#d4a48e"/><path d="M6 23.07 C6 4.98 32 4.98 32 23.07 C32 35.8 27.060000000000002 42.5 19 42.5 C10.94 42.5 6 35.8 6 23.07Z" fill="#e0b8a0"/><path d="M6 23.07 C6 4.98 32 4.98 32 23.07 C32 35.8 27.060000000000002 42.5 19 42.5 C10.94 42.5 6 35.8 6 23.07Z" fill="url(#shade)" opacity="1.00"/><path d="M3 19 Q2 1 18 1 Q34 1 34 17 L32 19 Q28 14 26 19 Q22 14 17 17 Q11 14 8 19 L4 21Z" fill="#a58d6b"/><ellipse cx="15" cy="6" rx="9" ry="3.500" fill="#c0aa88" opacity="0.8"/><ellipse cx="19" cy="40.500" rx="3.500" ry="1.500" fill="#6a4a38" opacity="0.6"/><ellipse cx="13" cy="21.5" rx="2.800" ry="1.300" fill="#120c0a" opacity="0.675"/><ellipse cx="25" cy="21.5" rx="2.800" ry="1.300" fill="#120c0a" opacity="0.675"/><rect x="9.8" y="18.6" width="6.400" height="1.300" fill="#120c0a" opacity="0.57375"/><rect x="21.8" y="18.6" width="6.400" height="1.300" fill="#120c0a" opacity="0.57375"/><ellipse cx="19" cy="29" rx="2.800" ry="1" fill="#1a0c08" opacity="0.3375"/><ellipse cx="19" cy="25.5" rx="1.200" ry="3" fill="#fff" opacity="0.12"/><ellipse cx="19" cy="34.9" rx="3.400" ry="1.300" fill="#9a4a48" opacity="0.65"/><ellipse cx="19" cy="33.8" rx="4" ry="0.600" fill="#2a1212" opacity="0.6"/></g></g></svg>
<a class="t b lnk" style="left:97.700px;top:8px;transform:scaleX(0.9907)">Lennart Karl</a>
<span class="t " style="left:98px;top:31px;transform:scaleX(1.0089)">Attacking Midfield</span>
<svg class="flag" style="top:19px" width="21" height="14" viewBox="-1 -1 21 14"><rect x="-1" y="-1" width="21" height="14" fill="#3a3a3a"/><rect width="19" height="4" fill="#000"/><rect y="4" width="19" height="4" fill="#dd0000"/><rect y="8" width="19" height="4" fill="#ffce00"/></svg>
<span class="t c" style="left:449px;width:104px;text-align:center;top:19.500px;transform:scaleX(0.9550)">18</span>
<svg class="club" style="left:584px;top:13px" width="25" height="25" viewBox="0 0 25 25"><circle cx="12.4" cy="12.4" r="12.1" fill="#8f98ea"/><circle cx="12.4" cy="12.4" r="11.5" fill="#e3173d"/><text font-family="Liberation Sans, sans-serif" font-weight="bold" font-size="3.600" fill="#ffc4cf" letter-spacing="0.550"><textPath href="#fcbtop" startOffset="50%" text-anchor="middle">FC BAYERN</textPath></text><text font-family="Liberation Sans, sans-serif" font-weight="bold" font-size="3.600" fill="#ffc4cf" letter-spacing="1.200"><textPath href="#fcbbot" startOffset="50%" text-anchor="middle">MÜNCHEN</textPath></text><circle cx="12.4" cy="12.4" r="6.9" fill="#fff"/><circle cx="12.4" cy="12.4" r="6" fill="url(#fcbpat)"/></svg>
<a class="t b lnk" style="left:773.8px;top:19.500px;transform:scaleX(1.0311)">€60.00m</a>
</div>
<div class="row" style="top:487px">
<span class="t c" style="left:-0.700px;width:45px;text-align:center;top:19.500px;transform:scaleX(0.9550)">9</span>
<svg class="pic" width="35" height="45" viewBox="0 0 35 45"><defs><filter id="bl9" x="-30%" y="-30%" width="160%" height="160%"><feGaussianBlur stdDeviation="1.0"/></filter><clipPath id="cp9"><rect width="35" height="45"/></clipPath></defs><g clip-path="url(#cp9)"><g filter="url(#bl9)"><rect x="-5" y="-5" width="45" height="55" fill="#1d80c8"/><rect x="-5" y="-5" width="45" height="13" fill="#1b2434"/><path d="M3 50 Q6 40 12 38 H25 Q30 40 32 50Z" fill="#f0e4dc"/><rect x="9" y="30" width="18" height="14" fill="#e8c4aa"/><ellipse cx="18" cy="12" rx="14.500" ry="11.500" fill="#ac8050"/><ellipse cx="9" cy="12" rx="5.500" ry="8" fill="#dcc098"/><ellipse cx="4" cy="25" rx="2" ry="4" fill="#f0d0b8"/><path d="M4.5 23.15 C4.5 5.6 30.5 5.6 30.5 23.15 C30.5 35.5 25.560000000000002 42 17.5 42 C9.44 42 4.5 35.5 4.5 23.15Z" fill="#f0d2ba"/><path d="M4.5 23.15 C4.5 5.6 30.5 5.6 30.5 23.15 C30.5 35.5 25.560000000000002 42 17.5 42 C9.44 42 4.5 35.5 4.5 23.15Z" fill="url(#shade)" opacity="0.53"/><path d="M6 17 Q7 6 18 6 Q30 6 31.500 18 Q26 11 18 12 Q10 11.500 6 17Z" fill="#ac8050"/><ellipse cx="11.5" cy="20.5" rx="2.800" ry="1.300" fill="#120c0a" opacity="0.54"/><ellipse cx="23.5" cy="20.5" rx="2.800" ry="1.300" fill="#120c0a" opacity="0.54"/><rect x="8.3" y="17.6" width="6.400" height="1.300" fill="#120c0a" opacity="0.459"/><rect x="20.3" y="17.6" width="6.400" height="1.300" fill="#120c0a" opacity="0.459"/><ellipse cx="17.5" cy="27.5" rx="2.800" ry="1" fill="#1a0c08" opacity="0.27"/><ellipse cx="17.5" cy="24.0" rx="1.200" ry="3" fill="#fff" opacity="0.12"/><ellipse cx="17.5" cy="33.4" rx="3.400" ry="1.300" fill="#b87868" opacity="0.65"/><ellipse cx="17.5" cy="32.3" rx="4" ry="0.600" fill="#2a1212" opacity="0.6"/></g></g></svg>
<a class="t b lnk" style="left:97.700px;top:8px;transform:scaleX(0.9453)">Luka Vuskovic</a>
<span class="t " style="left:98px;top:31px;transform:scaleX(0.9857)">Centre-Back</span>
<svg class="flag" style="top:19px" width="21" height="14" viewBox="-1 -1 21 14"><rect x="-1" y="-1" width="21" height="14" fill="#3a3a3a"/><rect width="19" height="4" fill="#f00"/><rect y="4" width="19" height="4" fill="#fff"/><rect y="8" width="19" height="4" fill="#171796"/><rect x="7.5" y="2.5" width="4" height="6" fill="#e33"/><rect x="7.5" y="2.5" width="2" height="2" fill="#fff"/><rect x="9.5" y="4.5" width="2" height="2" fill="#fff"/><rect x="7.5" y="6.5" width="2" height="2" fill="#fff"/></svg>
<span class="t c" style="left:449px;width:104px;text-align:center;top:19.500px;transform:scaleX(0.9550)">19</span>
<svg class="club" style="left:584px;top:16px" width="25" height="17" viewBox="0 0 25 17"><rect width="25" height="17" fill="#0a5cb0"/><path d="M12.5 1.8 L19 8.5 L12.5 15.2 L6 8.5z" fill="#fff"/><path d="M12.5 4.400 L16.500 8.500 L12.5 12.600 L8.500 8.500z" fill="#111"/><path d="M12.5 7.100 L13.900 8.500 L12.5 9.900 L11.100 8.500z" fill="#fff"/></svg>
<a class="t b lnk" style="left:756.3px;top:19.500px;transform:scaleX(1.0293)">€60.00m</a>
<svg class="arr" width="14" height="13" viewBox="0 0 14 13"><path d="M7 0 L13.6 6.600 H9.600 V13 H4.400 V6.600 H0.400z" fill="#64991e"/></svg>
</div>
<div class="row" style="top:543px">
<span class="t c" style="left:-0.700px;width:45px;text-align:center;top:19.500px;transform:scaleX(0.9550)">10</span>
<svg class="pic" width="35" height="45" viewBox="0 0 35 45"><defs><filter id="bl10" x="-30%" y="-30%" width="160%" height="160%"><feGaussianBlur stdDeviation="0.8"/></filter><clipPath id="cp10"><rect width="35" height="45"/></clipPath></defs><g clip-path="url(#cp10)"><g filter="url(#bl10)"><rect x="-5" y="-5" width="45" height="55" fill="#2b2319"/><rect x="-5" y="20" width="12" height="22" fill="#6c5c22"/><rect x="29" y="22" width="12" height="16" fill="#6c5c22"/><path d="M-2 50 V44 L12 42 L24 42 L26 37 Q32 35 38 38 V50Z" fill="#18170f"/><rect x="9" y="32" width="17" height="12" fill="#b89078"/><ellipse cx="18" cy="10" rx="13.500" ry="9" fill="#4a3c31"/><ellipse cx="32.500" cy="25" rx="2.200" ry="4.500" fill="#c49c84"/><ellipse cx="4" cy="26" rx="1.600" ry="3.500" fill="#c49c84"/><path d="M4.0 21.75 C4.0 1.5 31.0 1.5 31.0 21.75 C31.0 36.0 25.869999999999997 43.5 17.5 43.5 C9.13 43.5 4.0 36.0 4.0 21.75Z" fill="#d6b098"/><path d="M4.0 21.75 C4.0 1.5 31.0 1.5 31.0 21.75 C31.0 36.0 25.869999999999997 43.5 17.5 43.5 C9.13 43.5 4.0 36.0 4.0 21.75Z" fill="url(#shade)" opacity="0.74"/><ellipse cx="15" cy="13" rx="8" ry="3.500" fill="#e0bca6" opacity="0.8"/><path d="M5 13 Q6 1.500 19 2 Q29 2.500 31 12 L31.500 18 Q28 9 20 8 Q10 7 5 13Z" fill="#4a3c31"/><ellipse cx="10.5" cy="19.5" rx="2.800" ry="1.300" fill="#120c0a" opacity="0.675"/><ellipse cx="22.5" cy="19.5" rx="2.800" ry="1.300" fill="#120c0a" opacity="0.675"/><rect x="7.3" y="16.6" width="6.400" height="1.300" fill="#120c0a" opacity="0.57375"/><rect x="19.3" y="16.6" width="6.400" height="1.300" fill="#120c0a" opacity="0.57375"/><ellipse cx="16.5" cy="27" rx="2.800" ry="1" fill="#1a0c08" opacity="0.3375"/><ellipse cx="16.5" cy="23.5" rx="1.200" ry="3" fill="#fff" opacity="0.12"/><ellipse cx="16.5" cy="32.9" rx="3.400" ry="1.300" fill="#9a5a50" opacity="0.65"/><ellipse cx="16.5" cy="31.8" rx="4" ry="0.600" fill="#2a1212" opacity="0.6"/></g></g></svg>
<a class="t b lnk" style="left:97.700px;top:8px;transform:scaleX(0.9714)">Nico Schlotterbeck</a>
<span class="t " style="left:98px;top:31px;transform:scaleX(0.9857)">Centre-Back</span>
<svg class="flag" style="top:19px" width="21" height="14" viewBox="-1 -1 21 14"><rect x="-1" y="-1" width="21" height="14" fill="#3a3a3a"/><rect width="19" height="4" fill="#000"/><rect y="4" width="19" height="4" fill="#dd0000"/><rect y="8" width="19" height="4" fill="#ffce00"/></svg>
<span class="t c" style="left:449px;width:104px;text-align:center;top:19.500px;transform:scaleX(0.9550)">26</span>
<svg class="club" style="left:584px;top:13px" width="25" height="25" viewBox="0 0 25 25"><circle cx="12.3" cy="12.5" r="12.3" fill="#6f6510"/><circle cx="12.3" cy="12.5" r="11.500" fill="#f9e211"/><circle cx="12.3" cy="12.5" r="10.300" fill="none" stroke="#7a6e10" stroke-width="0.600"/><text x="4.100" y="16.200" font-size="13.400" textLength="5.400" font-family="Liberation Sans, sans-serif" font-weight="bold" fill="#1c1a0c" lengthAdjust="spacingAndGlyphs">B</text><text x="9.200" y="12.200" font-size="12.600" textLength="6.400" font-family="Liberation Sans, sans-serif" font-weight="bold" fill="#1c1a0c" lengthAdjust="spacingAndGlyphs">V</text><text x="15.700" y="16.200" font-size="13.400" textLength="5.400" font-family="Liberation Sans, sans-serif" font-weight="bold" fill="#1c1a0c" lengthAdjust="spacingAndGlyphs">B</text><text x="9.300" y="21" font-size="4.800" textLength="6.200" font-family="Liberation Sans, sans-serif" font-weight="bold" fill="#1c1a0c" lengthAdjust="spacingAndGlyphs">09</text></svg>
<a class="t b lnk" style="left:773.8px;top:19.500px;transform:scaleX(1.0311)">€55.00m</a>
</div>
<div class="vl" style="left:45px"></div>
<div class="vl" style="left:365px"></div>
<div class="vl" style="left:448px"></div>
<div class="vl" style="left:553px"></div>
<div class="vl" style="left:640px"></div>
</body></html>
